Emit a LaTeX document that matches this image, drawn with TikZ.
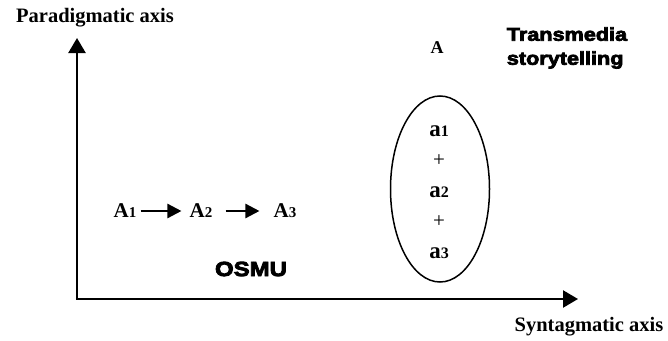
\documentclass[tikz,border=0pt]{standalone}
\usepackage{fontspec}
\setmainfont{Liberation Serif}
\newfontfamily\heavyfont[FakeBold=4,FakeStretch=1.17]{Liberation Sans Bold}
\usetikzlibrary{arrows.meta,shapes.geometric}
\newcommand{\sub}[2]{{\fontsize{#1}{#1}\selectfont #2}}
\tikzset{
  axislabel/.style={font=\fontsize{20.5}{20.5}\selectfont\bfseries, inner sep=0pt},
  elem/.style={font=\fontsize{21}{21}\selectfont\bfseries, inner sep=0pt},
  item/.style={font=\fontsize{23}{23}\selectfont\bfseries, inner sep=0pt},
  plus/.style={font=\fontsize{21}{21}\selectfont, inner sep=0pt},
  heavy/.style={font=\fontsize{18.5}{24}\selectfont\heavyfont, inner sep=0pt},
  axis/.style={line width=2.4pt, -{Triangle[length=15pt,width=17pt]}},
  flow/.style={line width=2.4pt, -{Triangle[length=14pt,width=14pt]}},
}
\begin{document}
\begin{tikzpicture}[x=1pt,y=-1pt]
\useasboundingbox (0,0) rectangle (668,340);
% axes
\coordinate (o) at (77,299);
\coordinate (ytip) at (77,38);
\coordinate (xtip) at (578,299);
\draw[axis] (o) -- (ytip);
\draw[axis] ([xshift=-1.2pt]o) -- (xtip);
\node[axislabel] (py) at (95,18) {Paradigmatic axis};
\node[axislabel] (sx) at (589,327) {Syntagmatic axis};
% OSMU chain
\node[elem] (A1) at (125,211) {A\sub{15}{1}};
\node[elem] (A2) at (201,211) {A\sub{15}{2}};
\node[elem] (A3) at (285,211) {A\sub{15}{3}};
\draw[flow, shorten <=4pt, shorten >=8pt] (A1.east) -- (A2.west);
\draw[flow, shorten <=13pt, shorten >=14pt] (A2.east) -- (A3.west);
\node[heavy, font=\fontsize{20.5}{20.5}\selectfont\heavyfont] (osmu) at (251,269) {OSMU};
% transmedia
\node[elem, font=\fontsize{18}{18}\selectfont\bfseries] (A) at (437,48) {A};
\node[heavy, align=left] (tm) at (567,48) {Transmedia\\storytelling};
\node[ellipse, draw, line width=1.5pt, minimum width=99pt, minimum height=186pt, inner sep=0pt] (E) at (440,189) {};
\node[item] (a1) at (439,131) {a\sub{16}{1}};
\node[plus] (p1) at (439,161) {+};
\node[item] (a2) at (439,192) {a\sub{16}{2}};
\node[plus] (p2) at (439,222) {+};
\node[item] (a3) at (439,253) {a\sub{16}{3}};
\end{tikzpicture}
\end{document}
